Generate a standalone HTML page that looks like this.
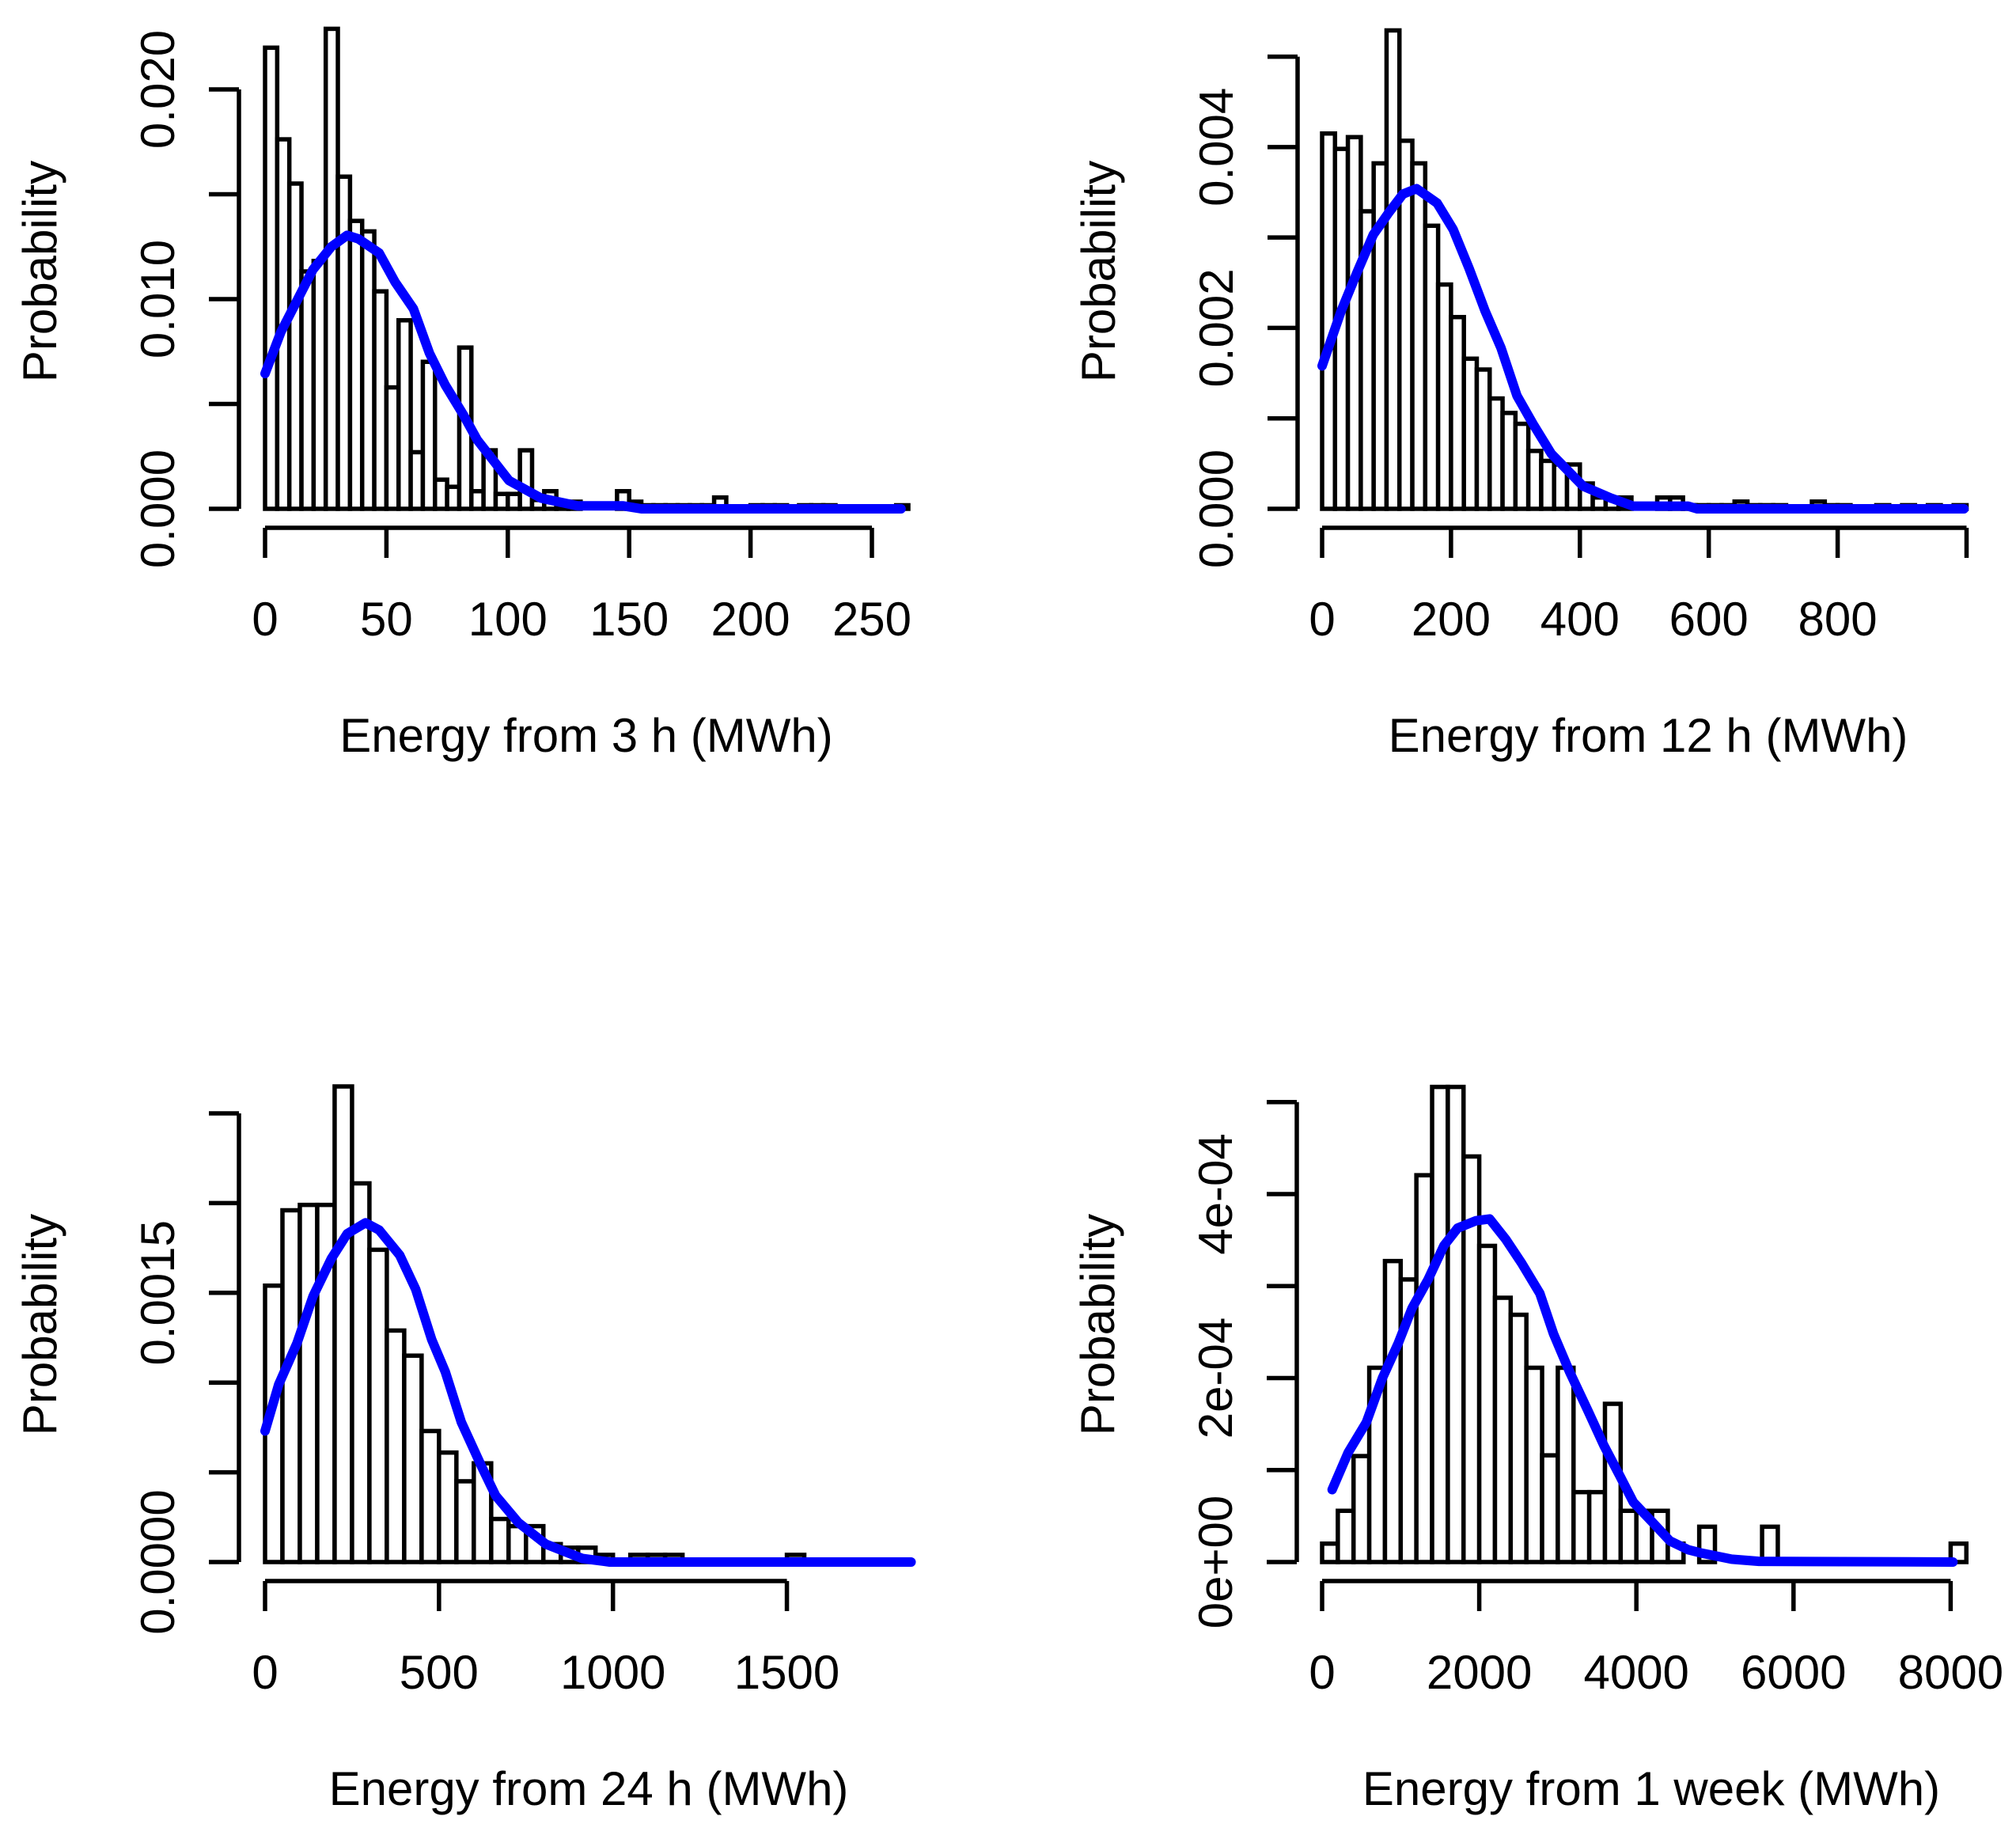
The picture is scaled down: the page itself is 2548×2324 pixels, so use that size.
<!DOCTYPE html>
<html><head><meta charset="utf-8"><style>
html,body{margin:0;padding:0;background:#fff;}
svg{display:block;}
text{font-family:"Liberation Sans",Arial,sans-serif;font-size:60px;fill:#000;}
</style></head><body>
<svg id="chart" width="2548" height="2324" viewBox="0 0 2548 2324" xmlns="http://www.w3.org/2000/svg"></svg>
<script>
// ---- data ----
const p1BinWidth = 5;
const p1Density = [0.02199,0.01762,0.01551,0.01132,0.01182,0.02289,0.01584,0.01373,0.01323,0.01037,0.00579,0.00899,0.00270,0.00701,0.00139,0.00105,0.00769,0.00084,0.00279,0.00071,0.00071,0.00279,0.00042,0.00084,0.00034,0.00034,0,0,0,0.00084,0.00034,0.00017,0.00017,0.00017,0.00017,0.00017,0.00017,0.00054,0,0,0.00017,0.00017,0.00017,0,0.00017,0.00017,0.00017,0,0,0,0,0,0.00017];
const p1CurveX = [0,6.6,14.1,19.7,27.3,33.8,38.5,47,53.6,61.1,67.7,74.2,81.7,87.4,100.5,113.7,128.7,147.6,155,262];
const p1CurveY = [0.00645,0.00845,0.01014,0.0114,0.0125,0.01304,0.01287,0.0122,0.01081,0.00954,0.00743,0.00591,0.00448,0.00329,0.00135,0.00051,0.00014,0.00014,0,0];
const p1XTicks = [0,50,100,150,200,250];
const p1YTicks = [0,0.005,0.01,0.015,0.02];
const p1YLabels = ["0.000","","0.010","","0.020"];

const p2BinWidth = 20;
const p2Density = [0.00415,0.00398,0.00411,0.00329,0.00382,0.00529,0.00407,0.00382,0.00313,0.00248,0.00212,0.00166,0.00154,0.00122,0.00106,0.00094,0.00064,0.00053,0.00049,0.00049,0.00028,0.000125,0.000125,0.000125,0,0,0.000125,0.000125,0.00004,0.00004,0.00004,0.00004,0.00008,0.00004,0.00004,0.00004,0,0,0.00008,0.00004,0.00004,0,0,0.00004,0,0.00004,0,0.00004,0,0.00004];
const p2CurveX = [0,29.7,54.5,79.3,104,125.4,146.6,178.5,203.3,228,252.8,277.6,302.4,327.2,355.5,405,447.6,483,568,582,996];
const p2CurveY = [0.00158,0.00219,0.00262,0.00303,0.00328,0.00348,0.00354,0.00338,0.00309,0.00266,0.00219,0.00178,0.00125,0.00094,0.00061,0.00025,0.00012,0.00003,0.00003,0,0];
const p2XTicks = [0,200,400,600,800,1000];
const p2XLabels = ["0","200","400","600","800",""];
const p2YTicks = [0,0.001,0.002,0.003,0.004,0.005];
const p2YLabels = ["0.000","","0.002","","0.004",""];

const p3BinWidth = 50;
const p3Density = [0.00154,0.00196,0.00199,0.00199,0.00265,0.00211,0.00174,0.00129,0.00115,0.00073,0.00061,0.00045,0.00055,0.00024,0.0002,0.0002,0.0001,0.00008,0.00008,0.00004,0,0.00004,0.00004,0.00004,0,0,0,0,0,0,0.00004];
const p3CurveX = [0,39.4,91.9,137.8,190.3,236.2,288.7,328,387,433,479,518,564,623,663,728,807,912,991,1857];
const p3CurveY = [0.00073,0.00099,0.00122,0.00148,0.00169,0.00183,0.00189,0.00185,0.00171,0.00152,0.00124,0.00106,0.00078,0.00053,0.00037,0.00022,0.0001,0.00002,0,0];
const p3XTicks = [0,500,1000,1500];
const p3YTicks = [0,0.0005,0.001,0.0015,0.002,0.0025];
const p3YLabels = ["0.0000","","","0.0015","",""];

const p4BinWidth = 200;
const p4Density = [0.2e-4,0.557e-4,1.152e-4,2.112e-4,3.272e-4,3.072e-4,4.205e-4,5.165e-4,5.165e-4,4.409e-4,3.437e-4,2.873e-4,2.688e-4,2.112e-4,1.16e-4,2.112e-4,0.76e-4,0.76e-4,1.72e-4,0.557e-4,0.557e-4,0.557e-4,0.2e-4,0,0.384e-4,0,0,0,0.384e-4,0,0,0,0,0,0,0,0,0,0,0,0.2e-4];
const p4CurveX = [128,331,564,767,970,1145,1348,1551,1725,1958,2132,2336,2539,2771,2946,3149,3381,3585,3788,3962,4195,4427,4659,4834,5211,5560,8029];
const p4CurveY = [0.787e-4,1.19e-4,1.52e-4,2.0e-4,2.38e-4,2.76e-4,3.07e-4,3.44e-4,3.63e-4,3.71e-4,3.73e-4,3.51e-4,3.25e-4,2.92e-4,2.48e-4,2.07e-4,1.65e-4,1.27e-4,0.94e-4,0.65e-4,0.44e-4,0.23e-4,0.134e-4,0.096e-4,0.031e-4,0.008e-4,0];
const p4XTicks = [0,2000,4000,6000,8000];
const p4YTicks = [0,1e-4,2e-4,3e-4,4e-4,5e-4];
const p4YLabels = ["0e+00","","2e-04","","4e-04",""];

// ---- drawing ----
const NS = "http://www.w3.org/2000/svg";
const svg = document.getElementById("chart");
function mk(tag, attrs, parent){
  const e = document.createElementNS(NS, tag);
  for (const k in attrs) e.setAttribute(k, attrs[k]);
  (parent||svg).appendChild(e);
  return e;
}
function panel(id, x0, kx, y0, ky, axisX, axisY, binW, dens, cx, cy, xt, xl, yt, yl, title, titleX){
  const sx = v => x0 + v*kx;
  const sy = v => y0 - v*ky;
  const g = mk("g", {});
  
  
  dens.forEach((d,i)=>{
    const xa = sx(i*binW), xb = sx((i+1)*binW);
    const r = mk("rect", {x:xa, y:sy(d), width:xb-xa, height:Math.max(0,y0-sy(d)), fill:"#fff", stroke:"#000", "stroke-width":5.5}, g);
    
    
  });
  const pts = cx.map((v,i)=>sx(v).toFixed(1)+","+sy(cy[i]).toFixed(1)).join(" ");
  const pl = mk("polyline", {points:pts, fill:"none", stroke:"#0000ff", "stroke-width":12, "stroke-linejoin":"round", "stroke-linecap":"round"}, g);
  
  
  const xa = mk("path", {d:`M${sx(xt[0])},${axisY}H${sx(xt[xt.length-1])}` + xt.map(t=>`M${sx(t)},${axisY}V${axisY+38}`).join(""), stroke:"#000", "stroke-width":5.5, fill:"none"}, g);
  
  
  xt.forEach((t,i)=>{
    const lab = xl ? xl[i] : String(t);
    if(!lab) return;
    const tx = mk("text", {x:sx(t), y:axisY+136, "text-anchor":"middle"}, g);
    tx.textContent = lab;
    
    
  });
  const ya = mk("path", {d:`M${axisX},${sy(yt[0])}V${sy(yt[yt.length-1])}` + yt.map(t=>`M${axisX},${sy(t)}H${axisX-38}`).join(""), stroke:"#000", "stroke-width":5.5, fill:"none"}, g);
  
  
  yt.forEach((t,i)=>{
    if(!yl[i]) return;
    const yy = sy(t);
    const tx = mk("text", {x:0, y:0, "text-anchor":"middle", transform:`translate(${axisX-82},${yy}) rotate(-90)`}, g);
    tx.textContent = yl[i];
    
    
  });
  const xtitle = mk("text", {x:titleX, y:axisY+283, "text-anchor":"middle"}, g);
  xtitle.textContent = title;
  
  
  const ytitle = mk("text", {x:0, y:0, "text-anchor":"middle", transform:`translate(${axisX-231},${y0-300}) rotate(-90)`}, g);
  ytitle.textContent = "Probability";
  
  
}
panel("panel-3h", 335, 3.068, 643, 26500, 302, 667, p1BinWidth, p1Density, p1CurveX, p1CurveY, p1XTicks, null, p1YTicks, p1YLabels, "Energy from 3 h (MWh)", 741);
panel("panel-12h", 1671, 0.8145, 643, 114286, 1640, 667, p2BinWidth, p2Density, p2CurveX, p2CurveY, p2XTicks, p2XLabels, p2YTicks, p2YLabels, "Energy from 12 h (MWh)", 2083);
panel("panel-24h", 335, 0.4397, 1974, 226800, 302, 1998, p3BinWidth, p3Density, p3CurveX, p3CurveY, p3XTicks, null, p3YTicks, p3YLabels, "Energy from 24 h (MWh)", 744);
panel("panel-1week", 1671, 0.0993, 1974, 1162500, 1639, 1998, p4BinWidth, p4Density, p4CurveX, p4CurveY, p4XTicks, null, p4YTicks, p4YLabels, "Energy from 1 week (MWh)", 2087);
</script>
</body></html>
